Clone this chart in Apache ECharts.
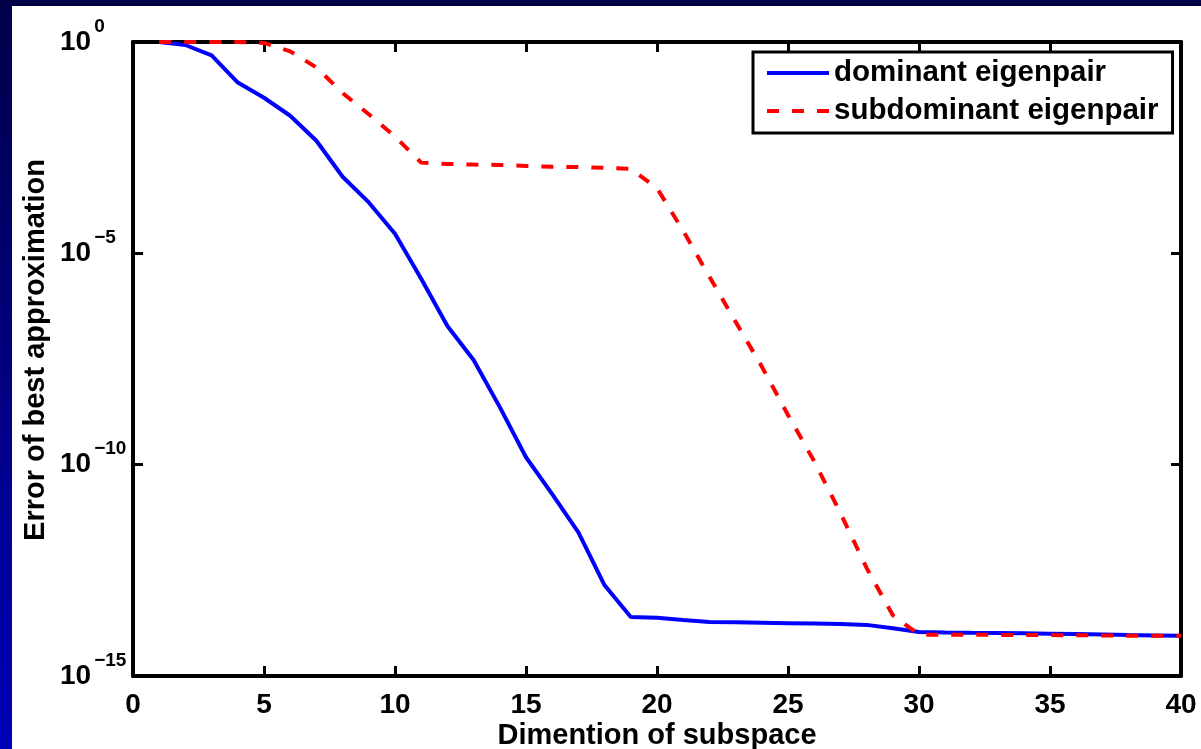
<!DOCTYPE html>
<html>
<head>
<meta charset="utf-8">
<script src="https://cdn.jsdelivr.net/npm/echarts@6/dist/echarts.min.js"></script>
<style>
  html, body { margin: 0; padding: 0; background: #fff; }
  #chart { width: 1201px; height: 749px; }
</style>
</head>
<body>
<div id="chart"></div>
<script>
// Subspace dimension (x) and approximation error (log y) for both eigenpairs
const dims = [1, 2, 3, 4, 5, 6, 7, 8, 9, 10,
              11, 12, 13, 14, 15, 16, 17, 18, 19, 20,
              21, 22, 23, 24, 25, 26, 27, 28, 29, 30,
              31, 32, 33, 34, 35, 36, 37, 38, 39, 40];

const dominant = [1.0, 0.85, 0.48, 0.11, 0.048, 0.018, 4.6e-3, 6.5e-4, 1.6e-4, 2.9e-5,
                  2.5e-6, 1.9e-7, 3.0e-8, 2.3e-9, 1.5e-10, 2.0e-11, 2.5e-12, 1.4e-13, 2.5e-14, 2.4e-14,
                  2.1e-14, 1.9e-14, 1.86e-14, 1.82e-14, 1.78e-14, 1.74e-14, 1.70e-14, 1.62e-14, 1.35e-14, 1.1e-14,
                  1.07e-14, 1.05e-14, 1.04e-14, 1.02e-14, 1.0e-14, 9.8e-15, 9.6e-15, 9.3e-15, 9.1e-15, 8.9e-15];

const subdominant = [1.0, 1.0, 1.0, 1.0, 0.95, 0.6, 0.25, 0.062, 0.0195, 5.8e-3,
                     1.4e-3, 1.3e-3, 1.26e-3, 1.23e-3, 1.17e-3, 1.12e-3, 1.1e-3, 1.05e-3, 1.0e-3, 3.5e-4,
                     3.4e-5, 2.8e-6, 2.4e-7, 2.1e-8, 1.5e-9, 1.2e-10, 7.2e-12, 3.6e-13, 2.75e-14, 9.5e-15,
                     9.5e-15, 9.4e-15, 9.4e-15, 9.3e-15, 9.3e-15, 9.2e-15, 9.1e-15, 9.0e-15, 8.95e-15, 8.9e-15];

const seriesNames = ['dominant eigenpair', 'subdominant eigenpair'];
const xLabelName = 'Dimention of subspace';
const yLabelName = 'Error of best approximation';
const yLabelValues = [1e-15, 1e-10, 1e-5, 1];
const yTickValues = [1e-10, 1e-5];

const FONT = '"Liberation Sans", Arial, Helvetica, sans-serif';
const axisLine = { show: true, onZero: false, lineStyle: { color: '#000', width: 4 } };
const axisTick = { show: true, inside: true, length: 10, lineStyle: { color: '#000', width: 3 } };

// "10" with a raised exponent, e.g. 10^-5
function powerLabel(v) {
  const e = Math.round(Math.log10(v));
  const s = e < 0 ? '\u2212' + Math.abs(e) : String(e);
  return '{b|10}{s|' + s + '}';
}

const chart = echarts.init(document.getElementById('chart'), null, { renderer: 'canvas' });

chart.setOption({
  animation: false,
  backgroundColor: '#fff',
  graphic: [
    {
      type: 'rect', left: 0, top: 0, silent: true, z: -10,
      shape: { x: 0, y: 0, width: 1201, height: 6 },
      style: { fill: '#000048' }
    },
    {
      type: 'rect', left: 0, top: 0, silent: true, z: -10,
      shape: { x: 0, y: 0, width: 12, height: 749 },
      style: {
        fill: {
          type: 'linear', x: 0, y: 0, x2: 0, y2: 1,
          colorStops: [{ offset: 0, color: '#000048' }, { offset: 1, color: '#0000b8' }]
        }
      }
    }
  ],
  grid: { left: 133, right: 20, top: 42, bottom: 73, containLabel: false, outerBoundsMode: 'none' },
  legend: {
    orient: 'vertical',
    left: 753,
    top: 52,
    padding: [6, 14, 7, 12],
    itemGap: 8,
    itemWidth: 62,
    itemHeight: 2,
    backgroundColor: '#fff',
    borderColor: '#000',
    borderWidth: 3,
    borderRadius: 0,
    itemStyle: { opacity: 0 },
    lineStyle: { width: 4 },
    textStyle: { fontFamily: FONT, fontWeight: 'bold', fontSize: 29.5, color: '#000', lineHeight: 30 },
    data: seriesNames
  },
  xAxis: [
    {
      type: 'value', position: 'bottom', min: 0, max: 40, interval: 5,
      name: xLabelName, nameLocation: 'middle', nameGap: 45, nameMoveOverlap: false,
      nameTextStyle: { fontFamily: FONT, fontWeight: 'bold', fontSize: 29, color: '#000', verticalAlign: 'top' },
      axisLine: axisLine, axisTick: axisTick,
      axisLabel: { fontFamily: FONT, fontWeight: 'bold', fontSize: 28, color: '#000', margin: 15 },
      splitLine: { show: false }
    },
    {
      type: 'value', position: 'top', min: 0, max: 40, interval: 5,
      axisLine: axisLine, axisTick: axisTick,
      axisLabel: { show: false },
      splitLine: { show: false }
    }
  ],
  yAxis: [
    {
      type: 'log', logBase: 10, position: 'left', min: 1e-15, max: 1,
      name: yLabelName, nameLocation: 'middle', nameGap: 83, nameMoveOverlap: false,
      nameTextStyle: { fontFamily: FONT, fontWeight: 'bold', fontSize: 29, color: '#000', padding: [0, 0, 0, 18] },
      axisLine: axisLine,
      axisTick: Object.assign({}, axisTick, { customValues: yTickValues }),
      axisLabel: {
        customValues: yLabelValues,
        formatter: powerLabel,
        align: 'left',
        margin: 73,
        rich: {
          b: { fontFamily: FONT, fontWeight: 'bold', fontSize: 28, color: '#000', lineHeight: 50, verticalAlign: 'middle' },
          s: { fontFamily: FONT, fontWeight: 'bold', fontSize: 19, color: '#000', lineHeight: 19, verticalAlign: 'top', padding: [0, 0, 0, 3] }
        }
      },
      splitLine: { show: false },
      minorTick: { show: false }
    },
    {
      type: 'log', logBase: 10, position: 'right', min: 1e-15, max: 1,
      axisLine: axisLine,
      axisTick: Object.assign({}, axisTick, { customValues: yTickValues }),
      axisLabel: { show: false },
      splitLine: { show: false },
      minorTick: { show: false }
    }
  ],
  series: [
    {
      name: seriesNames[0], type: 'line',
      data: dims.map((d, i) => [d, dominant[i]]),
      showSymbol: false, symbol: 'none', clip: false,
      lineStyle: { color: '#0000ff', width: 4 },
      itemStyle: { color: '#0000ff' },
      z: 3
    },
    {
      name: seriesNames[1], type: 'line',
      data: dims.map((d, i) => [d, subdominant[i]]),
      showSymbol: false, symbol: 'none', clip: false,
      lineStyle: { color: '#ff0000', width: 4, type: [12, 13] },
      itemStyle: { color: '#ff0000' },
      z: 4
    }
  ]
});
</script>
</body>
</html>
